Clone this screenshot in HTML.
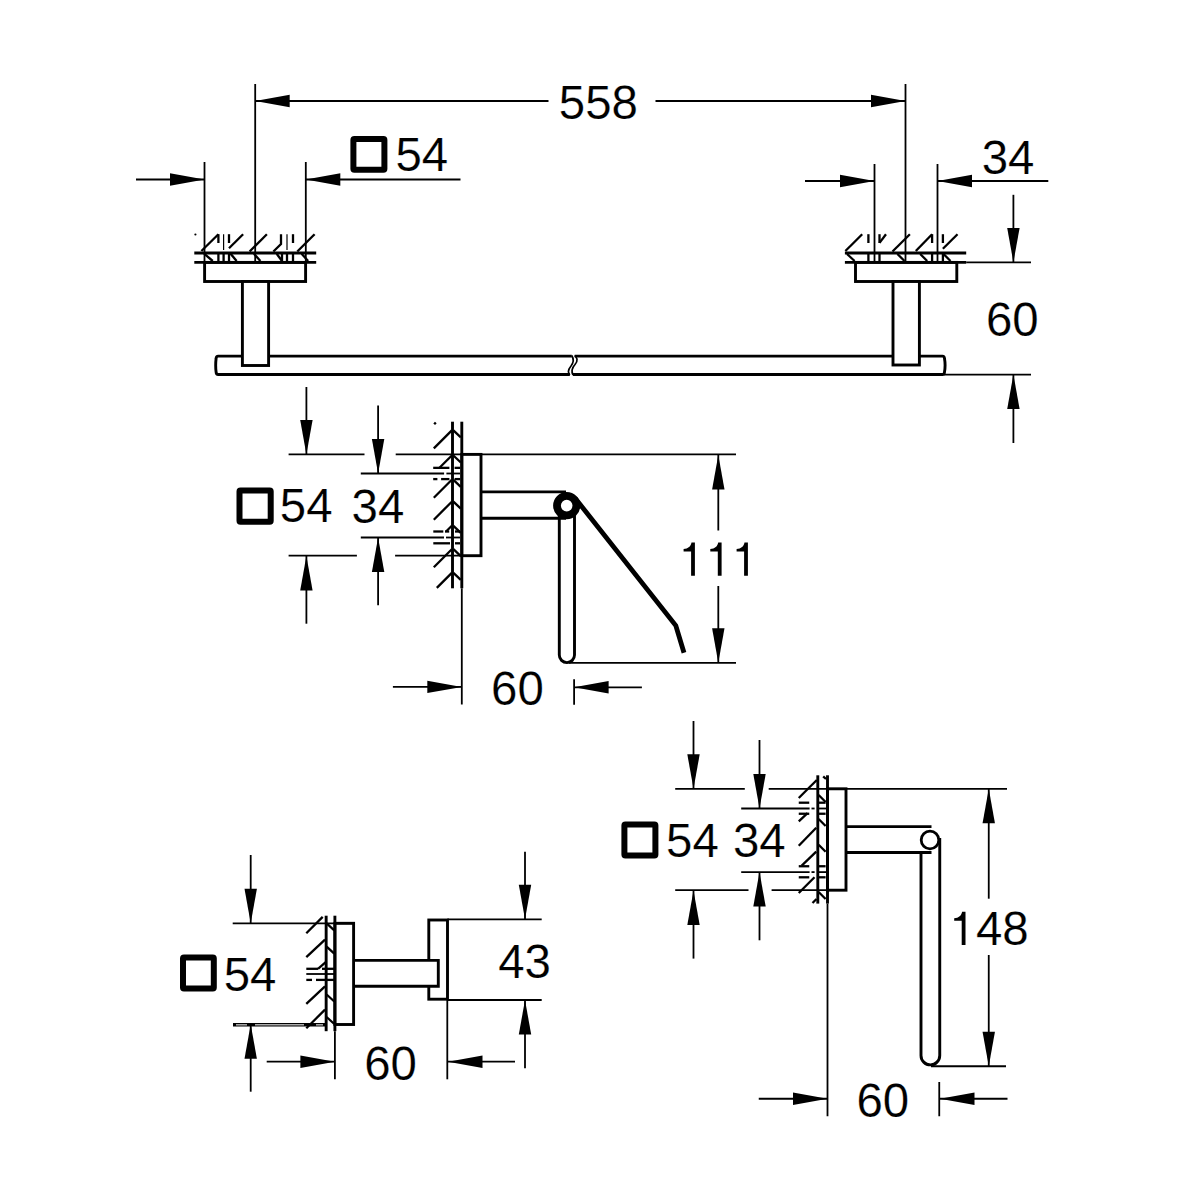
<!DOCTYPE html>
<html><head><meta charset="utf-8"><style>
html,body{margin:0;padding:0;background:#fff;}
svg{display:block;}
text{font-family:"Liberation Sans",sans-serif;fill:#000;}
</style></head><body>
<svg width="1200" height="1200" viewBox="0 0 1200 1200" stroke="#000" fill="none">
<rect x="0" y="0" width="1200" height="1200" fill="#fff" stroke="none"/>
<line x1="255.2" y1="84" x2="255.2" y2="262" stroke-width="1.8"/>
<line x1="905.5" y1="84" x2="905.5" y2="262" stroke-width="1.8"/>
<line x1="255.2" y1="101" x2="548.5" y2="101" stroke-width="1.8"/>
<line x1="655.5" y1="101" x2="905.5" y2="101" stroke-width="1.8"/>
<polygon points="255.2,101 289.7,94.8 289.7,107.2" fill="#000" stroke="none"/>
<polygon points="905.5,101 871,94.8 871,107.2" fill="#000" stroke="none"/>
<text transform="translate(558.8,119.07) scale(0.982,1)" font-size="48.3" stroke="#fff" stroke-width="0.2">558</text>
<line x1="204.5" y1="162" x2="204.5" y2="262" stroke-width="1.8"/>
<line x1="305.8" y1="162" x2="305.8" y2="262" stroke-width="1.8"/>
<line x1="136" y1="179.5" x2="204.5" y2="179.5" stroke-width="1.8"/>
<polygon points="204.5,179.5 170,173.3 170,185.7" fill="#000" stroke="none"/>
<line x1="305.8" y1="179.5" x2="460.5" y2="179.5" stroke-width="1.8"/>
<polygon points="305.8,179.5 340.3,173.3 340.3,185.7" fill="#000" stroke="none"/>
<rect x="353.4" y="138.9" width="31" height="30.9" rx="1" stroke-width="6.0" fill="none"/>
<text transform="translate(395.4,171.47) scale(0.982,1)" font-size="48.3" stroke="#fff" stroke-width="0.2">54</text>
<line x1="218.4" y1="234.2" x2="201.4" y2="251" stroke-width="2.3"/>
<line x1="243.1" y1="234.2" x2="229" y2="248.3" stroke-width="2.3"/>
<line x1="266.9" y1="234.2" x2="249.6" y2="251.5" stroke-width="2.3"/>
<line x1="314.6" y1="234.2" x2="297.3" y2="251.5" stroke-width="2.3"/>
<polyline points="281,234.2 281,244 273.4,251.5" stroke-width="2.3"/>
<line x1="218.4" y1="234.2" x2="218.4" y2="243" stroke-width="2.3"/>
<circle cx="195.4" cy="234.5" r="1.1" fill="#000" stroke="none"/>
<line x1="229" y1="234.2" x2="229" y2="243" stroke-width="2.3"/>
<line x1="293" y1="234.2" x2="293" y2="243" stroke-width="2.3"/>
<line x1="223.6" y1="234.2" x2="223.6" y2="250" stroke-width="1.2"/>
<line x1="287" y1="234.2" x2="287" y2="250" stroke-width="1.2"/>
<line x1="204.1" y1="253.7" x2="212.75" y2="261" stroke-width="2.3"/>
<line x1="230.6" y1="253.7" x2="236.6" y2="261" stroke-width="2.3"/>
<line x1="253.9" y1="253.7" x2="260.4" y2="261" stroke-width="2.3"/>
<line x1="276.7" y1="253.7" x2="282" y2="261" stroke-width="2.3"/>
<line x1="301.6" y1="253.7" x2="308.1" y2="261" stroke-width="2.3"/>
<line x1="218.4" y1="253" x2="218.4" y2="262.4" stroke-width="2.3"/>
<line x1="223.6" y1="253" x2="223.6" y2="262.4" stroke-width="2.3"/>
<line x1="229" y1="253" x2="229" y2="262.4" stroke-width="2.3"/>
<line x1="282" y1="253" x2="282" y2="262.4" stroke-width="2.3"/>
<line x1="287" y1="253" x2="287" y2="262.4" stroke-width="2.3"/>
<line x1="293" y1="253" x2="293" y2="262.4" stroke-width="2.3"/>
<line x1="194.3" y1="253" x2="316.2" y2="253" stroke-width="2.9"/>
<line x1="194.3" y1="262.4" x2="316.2" y2="262.4" stroke-width="2.9"/>
<rect x="204.6" y="262.4" width="101" height="19.1" stroke-width="2.9" fill="none"/>
<line x1="874.5" y1="164" x2="874.5" y2="262" stroke-width="1.8"/>
<line x1="937.5" y1="164" x2="937.5" y2="262" stroke-width="1.8"/>
<line x1="805" y1="181" x2="874.5" y2="181" stroke-width="1.8"/>
<polygon points="874.5,181 840,174.8 840,187.2" fill="#000" stroke="none"/>
<line x1="937.5" y1="181" x2="1048.3" y2="181" stroke-width="1.8"/>
<polygon points="937.5,181 972,174.8 972,187.2" fill="#000" stroke="none"/>
<text transform="translate(981.7,173.67) scale(0.982,1)" font-size="48.3" stroke="#fff" stroke-width="0.2">34</text>
<line x1="862.2" y1="234.2" x2="845.4" y2="251" stroke-width="2.3"/>
<line x1="909.9" y1="234.2" x2="892.5" y2="251.5" stroke-width="2.3"/>
<line x1="932.1" y1="234.2" x2="915.8" y2="251" stroke-width="2.3"/>
<line x1="957.5" y1="234.2" x2="942.9" y2="248.8" stroke-width="2.3"/>
<line x1="868.4" y1="234.2" x2="868.4" y2="243" stroke-width="2.3"/>
<line x1="879.5" y1="234.2" x2="879.5" y2="243" stroke-width="2.3"/>
<line x1="879.5" y1="242.9" x2="886" y2="234.2" stroke-width="2.3"/>
<line x1="932.1" y1="234.2" x2="932.1" y2="243" stroke-width="2.3"/>
<line x1="942.9" y1="234.2" x2="942.9" y2="243" stroke-width="2.3"/>
<line x1="847" y1="254" x2="854.6" y2="261" stroke-width="2.3"/>
<line x1="897.4" y1="254" x2="904.5" y2="261" stroke-width="2.3"/>
<line x1="920.2" y1="254" x2="927.2" y2="261" stroke-width="2.3"/>
<line x1="943.5" y1="254" x2="950.5" y2="261" stroke-width="2.3"/>
<line x1="868.4" y1="253" x2="868.4" y2="262.4" stroke-width="2.3"/>
<line x1="879.5" y1="253" x2="879.5" y2="262.4" stroke-width="2.3"/>
<line x1="932.1" y1="253" x2="932.1" y2="262.4" stroke-width="2.3"/>
<line x1="942.9" y1="253" x2="942.9" y2="262.4" stroke-width="2.3"/>
<line x1="844.9" y1="253" x2="966.2" y2="253" stroke-width="2.9"/>
<line x1="844.9" y1="262.4" x2="966.2" y2="262.4" stroke-width="2.9"/>
<line x1="966.2" y1="262.4" x2="1031" y2="262.4" stroke-width="1.8"/>
<rect x="855.5" y="262.4" width="101.3" height="19.1" stroke-width="2.9" fill="none"/>
<path d="M 571.8,356.1 L 218.2,356.1 Q 216.2,356.1 216.1,358.5 C 215.6,362.5 215.6,368 216.1,372 Q 216.2,374.5 218.2,374.5 L 569.8,374.5" stroke-width="2.9" fill="none" stroke-linecap="butt"/>
<path d="M 574.7,356.1 L 942.5,356.1 Q 944.4,356.1 944.5,358.5 C 945.2,362.5 945.2,368 944.5,372 Q 944.4,374.5 942.5,374.5 L 573,374.5" stroke-width="2.9" fill="none" stroke-linecap="butt"/>
<path d="M 571.8,355.5 C 574,359 574,362 571,366 C 567,371 568.5,373 569.8,375" stroke-width="1.7" fill="none" stroke-linecap="butt"/>
<path d="M 574.7,355.5 C 577,358 578.5,360 575,364.5 C 571,369 571.5,372 573,375" stroke-width="1.7" fill="none" stroke-linecap="butt"/>
<rect x="242.4" y="281.5" width="26.2" height="84" stroke-width="2.9" fill="#fff"/>
<rect x="893" y="281.5" width="26.4" height="83.5" stroke-width="2.9" fill="#fff"/>
<line x1="944" y1="374.6" x2="1031" y2="374.6" stroke-width="1.8"/>
<line x1="1013.4" y1="194.8" x2="1013.4" y2="262.4" stroke-width="1.8"/>
<polygon points="1013.4,262.4 1007.2,227.9 1019.6,227.9" fill="#000" stroke="none"/>
<line x1="1013.4" y1="374.5" x2="1013.4" y2="443" stroke-width="1.8"/>
<polygon points="1013.4,374.5 1007.2,409 1019.6,409" fill="#000" stroke="none"/>
<text transform="translate(985.98,336.17) scale(0.982,1)" font-size="48.3" stroke="#fff" stroke-width="0.2">60</text>
<line x1="306.4" y1="387" x2="306.4" y2="454.4" stroke-width="1.8"/>
<polygon points="306.4,454.4 300.2,419.9 312.6,419.9" fill="#000" stroke="none"/>
<line x1="306.4" y1="556" x2="306.4" y2="623.7" stroke-width="1.8"/>
<polygon points="306.4,556 300.2,590.5 312.6,590.5" fill="#000" stroke="none"/>
<line x1="378.1" y1="405.5" x2="378.1" y2="473.5" stroke-width="1.8"/>
<polygon points="378.1,473.5 371.9,439 384.3,439" fill="#000" stroke="none"/>
<line x1="378.1" y1="537.5" x2="378.1" y2="605.3" stroke-width="1.8"/>
<polygon points="378.1,537.5 371.9,572 384.3,572" fill="#000" stroke="none"/>
<line x1="288.6" y1="454.4" x2="364.5" y2="454.4" stroke-width="1.8"/>
<line x1="395.7" y1="454.4" x2="462" y2="454.4" stroke-width="1.8"/>
<line x1="288.6" y1="555.7" x2="356.9" y2="555.7" stroke-width="1.8"/>
<line x1="395.1" y1="555.7" x2="462" y2="555.7" stroke-width="1.8"/>
<line x1="360.8" y1="473.5" x2="444.1" y2="473.5" stroke-width="1.8"/>
<line x1="446.4" y1="473.5" x2="460" y2="473.5" stroke-width="1.8"/>
<line x1="360.8" y1="537.5" x2="444" y2="537.5" stroke-width="1.8"/>
<line x1="446" y1="537.5" x2="460" y2="537.5" stroke-width="1.8"/>
<line x1="433.2" y1="467.85" x2="449.4" y2="467.85" stroke-width="2.3"/>
<line x1="454.6" y1="467.85" x2="460.2" y2="467.85" stroke-width="2.3"/>
<line x1="433.2" y1="479.1" x2="437.4" y2="479.1" stroke-width="2.3"/>
<line x1="441.1" y1="479.1" x2="449.4" y2="479.1" stroke-width="2.3"/>
<line x1="454.6" y1="479.1" x2="460.2" y2="479.1" stroke-width="2.3"/>
<line x1="433.3" y1="531.5" x2="443.3" y2="531.5" stroke-width="2.3"/>
<line x1="445" y1="531.5" x2="449.2" y2="531.5" stroke-width="2.3"/>
<line x1="455" y1="531.5" x2="460" y2="531.5" stroke-width="2.3"/>
<line x1="433.3" y1="543.3" x2="450" y2="543.3" stroke-width="2.3"/>
<line x1="455" y1="543.3" x2="460" y2="543.3" stroke-width="2.3"/>
<rect x="239.5" y="490.6" width="31.2" height="31.1" rx="1" stroke-width="6.0" fill="none"/>
<text transform="translate(279.8,522.47) scale(0.982,1)" font-size="48.3" stroke="#fff" stroke-width="0.2">54</text>
<text transform="translate(351.6,522.67) scale(0.982,1)" font-size="48.3" stroke="#fff" stroke-width="0.2">34</text>
<line x1="433.8" y1="448.4" x2="451.8" y2="430.4" stroke-width="2.3"/>
<line x1="453.4" y1="430.4" x2="460.8" y2="437.4" stroke-width="2.3"/>
<line x1="439.5" y1="467.8" x2="451.8" y2="455.5" stroke-width="2.3"/>
<line x1="453.4" y1="455.5" x2="460.8" y2="462.5" stroke-width="2.3"/>
<line x1="433.8" y1="497.8" x2="451.8" y2="479.8" stroke-width="2.3"/>
<line x1="453.4" y1="479.8" x2="460.8" y2="486.8" stroke-width="2.3"/>
<line x1="433.8" y1="519.7" x2="451.8" y2="501.7" stroke-width="2.3"/>
<line x1="453.4" y1="501.7" x2="460.8" y2="508.7" stroke-width="2.3"/>
<line x1="446.1" y1="531.5" x2="451.8" y2="525.8" stroke-width="2.3"/>
<line x1="453.4" y1="525.8" x2="460.8" y2="532.8" stroke-width="2.3"/>
<line x1="433.8" y1="567.2" x2="451.8" y2="549.2" stroke-width="2.3"/>
<line x1="453.4" y1="549.2" x2="460.8" y2="556.2" stroke-width="2.3"/>
<line x1="436.8" y1="587.9" x2="451.8" y2="572.9" stroke-width="2.3"/>
<line x1="453.4" y1="572.9" x2="460.8" y2="579.9" stroke-width="2.3"/>
<line x1="434.2" y1="424.3" x2="435.8" y2="422.5" stroke-width="2.3"/>
<line x1="452.5" y1="421.7" x2="452.5" y2="588.3" stroke-width="2.9"/>
<line x1="461.8" y1="421.7" x2="461.8" y2="588.3" stroke-width="2.9"/>
<line x1="461.8" y1="588.3" x2="461.8" y2="704.5" stroke-width="1.8"/>
<rect x="461.8" y="454.4" width="19.2" height="101.3" stroke-width="2.9" fill="none"/>
<line x1="481" y1="454.4" x2="736" y2="454.4" stroke-width="1.8"/>
<line x1="481" y1="491.9" x2="566" y2="491.9" stroke-width="2.9"/>
<line x1="481" y1="518.2" x2="566" y2="518.2" stroke-width="2.9"/>
<path d="M 559.3,512 L 559.3,655 A 7.6,7.6 0 0 0 574.5,655 L 574.5,512" stroke-width="2.9" fill="none" stroke-linecap="butt"/>
<path d="M 575,498 L 675.8,625.6 L 684,652.7" stroke-width="4.8" fill="none" stroke-linecap="butt"/>
<circle cx="566.7" cy="505.6" r="9.7" stroke-width="7.8" fill="#fff"/>
<line x1="569" y1="662.8" x2="736" y2="662.8" stroke-width="1.8"/>
<line x1="718.3" y1="454.4" x2="718.3" y2="530.5" stroke-width="1.8"/>
<polygon points="718.3,455 712.1,489.5 724.5,489.5" fill="#000" stroke="none"/>
<line x1="718.3" y1="586" x2="718.3" y2="662.8" stroke-width="1.8"/>
<polygon points="718.3,662.8 712.1,628.3 724.5,628.3" fill="#000" stroke="none"/>
<path d="M 694.9,542.6 L 694.9,575.8 L 691.1,575.8 L 691.1,551.6 L 683.6,551.6 L 683.6,549.1 C 688.2,548.9 690.9,546.4 691.5,542.6 Z" fill="#000" stroke="none"/>
<path d="M 721.6,542.6 L 721.6,575.8 L 717.8,575.8 L 717.8,551.6 L 710.3,551.6 L 710.3,549.1 C 714.9,548.9 717.6,546.4 718.2,542.6 Z" fill="#000" stroke="none"/>
<path d="M 747.9,542.6 L 747.9,575.8 L 744.1,575.8 L 744.1,551.6 L 736.6,551.6 L 736.6,549.1 C 741.2,548.9 743.9,546.4 744.5,542.6 Z" fill="#000" stroke="none"/>
<line x1="392.9" y1="686.9" x2="461.8" y2="686.9" stroke-width="1.8"/>
<polygon points="461.8,686.9 427.3,680.7 427.3,693.1" fill="#000" stroke="none"/>
<line x1="574.1" y1="679.3" x2="574.1" y2="704.7" stroke-width="1.8"/>
<line x1="574.1" y1="687.3" x2="641.9" y2="687.3" stroke-width="1.8"/>
<polygon points="574.1,687.3 608.6,681.1 608.6,693.5" fill="#000" stroke="none"/>
<text transform="translate(491.08,704.67) scale(0.982,1)" font-size="48.3" stroke="#fff" stroke-width="0.2">60</text>
<line x1="250.7" y1="855" x2="250.7" y2="923.3" stroke-width="1.8"/>
<polygon points="250.7,923.3 244.5,888.8 256.9,888.8" fill="#000" stroke="none"/>
<line x1="250.7" y1="1024.3" x2="250.7" y2="1091.7" stroke-width="1.8"/>
<polygon points="250.7,1024.3 244.5,1058.8 256.9,1058.8" fill="#000" stroke="none"/>
<line x1="232.7" y1="923.3" x2="355" y2="923.3" stroke-width="1.8"/>
<line x1="233" y1="1024.8" x2="326" y2="1024.8" stroke-width="3.6"/>
<line x1="236" y1="1024.8" x2="247" y2="1024.8" stroke-width="1.5" stroke="#aaa"/>
<line x1="255" y1="1024.8" x2="304" y2="1024.8" stroke-width="1.5" stroke="#aaa"/>
<line x1="316" y1="1024.8" x2="323" y2="1024.8" stroke-width="1.5" stroke="#aaa"/>
<rect x="183" y="957.6" width="30.8" height="30.8" rx="1" stroke-width="6.0" fill="none"/>
<text transform="translate(223.7,991.17) scale(0.982,1)" font-size="48.3" stroke="#fff" stroke-width="0.2">54</text>
<line x1="306.3" y1="933.2" x2="322.7" y2="916.9" stroke-width="2.3"/>
<line x1="306.3" y1="957.1" x2="325" y2="939.6" stroke-width="2.3"/>
<line x1="306.3" y1="1003.8" x2="325" y2="986.3" stroke-width="2.3"/>
<line x1="306.3" y1="1028.3" x2="325" y2="1009.6" stroke-width="2.3"/>
<line x1="326.6" y1="923.3" x2="334.3" y2="930.3" stroke-width="2.3"/>
<line x1="326.6" y1="946.6" x2="334.3" y2="953.6" stroke-width="2.3"/>
<line x1="326.6" y1="994.5" x2="334.3" y2="1001.5" stroke-width="2.3"/>
<line x1="326.6" y1="1017" x2="334.3" y2="1024" stroke-width="2.3"/>
<line x1="306.3" y1="968.8" x2="318" y2="968.8" stroke-width="2.3"/>
<line x1="322" y1="968.8" x2="334" y2="968.8" stroke-width="2.3"/>
<line x1="306.3" y1="974" x2="334" y2="974" stroke-width="1.8"/>
<line x1="306.3" y1="979.9" x2="312" y2="979.9" stroke-width="2.3"/>
<line x1="316" y1="979.9" x2="334" y2="979.9" stroke-width="2.3"/>
<line x1="318" y1="968.8" x2="326" y2="961.8" stroke-width="2.3"/>
<line x1="326.15" y1="915.7" x2="326.15" y2="1031.2" stroke-width="2.9"/>
<line x1="334.9" y1="915.7" x2="334.9" y2="1031.2" stroke-width="2.9"/>
<line x1="334.9" y1="1031.2" x2="334.9" y2="1079.3" stroke-width="1.8"/>
<rect x="334.9" y="923.3" width="18.7" height="101.2" stroke-width="2.9" fill="none"/>
<rect x="428.8" y="920" width="18.7" height="79.2" stroke-width="2.9" fill="none"/>
<rect x="355.2" y="960.4" width="83.1" height="25.9" fill="#fff" stroke="none"/>
<path d="M 353.6,960.4 L 438.3,960.4 L 438.3,986.3 L 353.6,986.3" stroke-width="2.9" fill="none" stroke-linecap="butt"/>
<line x1="447.3" y1="919.3" x2="541.7" y2="919.3" stroke-width="1.8"/>
<line x1="447.3" y1="1000" x2="541.7" y2="1000" stroke-width="1.8"/>
<line x1="525" y1="851.7" x2="525" y2="919.3" stroke-width="1.8"/>
<polygon points="525,919.3 518.8,884.8 531.2,884.8" fill="#000" stroke="none"/>
<line x1="525" y1="1000" x2="525" y2="1068.3" stroke-width="1.8"/>
<polygon points="525,1000 518.8,1034.5 531.2,1034.5" fill="#000" stroke="none"/>
<text transform="translate(498.21,977.67) scale(0.982,1)" font-size="48.3" stroke="#fff" stroke-width="0.2">43</text>
<line x1="266.7" y1="1061.7" x2="334.9" y2="1061.7" stroke-width="1.8"/>
<polygon points="334.9,1061.7 300.4,1055.5 300.4,1067.9" fill="#000" stroke="none"/>
<line x1="447.3" y1="1000" x2="447.3" y2="1079.3" stroke-width="1.8"/>
<line x1="448" y1="1061.7" x2="515" y2="1061.7" stroke-width="1.8"/>
<polygon points="448,1061.7 482.5,1055.5 482.5,1067.9" fill="#000" stroke="none"/>
<text transform="translate(364.18,1079.57) scale(0.982,1)" font-size="48.3" stroke="#fff" stroke-width="0.2">60</text>
<line x1="693.5" y1="721" x2="693.5" y2="788.8" stroke-width="1.8"/>
<polygon points="693.5,788.8 687.3,754.3 699.7,754.3" fill="#000" stroke="none"/>
<line x1="693.5" y1="890.4" x2="693.5" y2="958.6" stroke-width="1.8"/>
<polygon points="693.5,890.4 687.3,924.9 699.7,924.9" fill="#000" stroke="none"/>
<line x1="759.5" y1="740" x2="759.5" y2="808.5" stroke-width="1.8"/>
<polygon points="759.5,808.5 753.3,774 765.7,774" fill="#000" stroke="none"/>
<line x1="759.5" y1="872.1" x2="759.5" y2="940.3" stroke-width="1.8"/>
<polygon points="759.5,872.1 753.3,906.6 765.7,906.6" fill="#000" stroke="none"/>
<line x1="675.2" y1="788.8" x2="744.8" y2="788.8" stroke-width="1.8"/>
<line x1="768.7" y1="788.8" x2="1007" y2="788.8" stroke-width="1.8"/>
<line x1="675.2" y1="890.2" x2="748.5" y2="890.2" stroke-width="1.8"/>
<line x1="771.6" y1="890.2" x2="846" y2="890.2" stroke-width="1.8"/>
<line x1="741.2" y1="808.5" x2="809.6" y2="808.5" stroke-width="1.8"/>
<line x1="811.5" y1="808.5" x2="814.6" y2="808.5" stroke-width="1.8"/>
<line x1="741.2" y1="872.1" x2="809.6" y2="872.1" stroke-width="1.8"/>
<line x1="811.5" y1="872.1" x2="814.6" y2="872.1" stroke-width="1.8"/>
<line x1="819" y1="808.5" x2="826" y2="808.5" stroke-width="1.8"/>
<line x1="819" y1="872.1" x2="826" y2="872.1" stroke-width="1.8"/>
<line x1="823.2" y1="776.3" x2="826" y2="779" stroke-width="2.3"/>
<rect x="624.4" y="824.4" width="31" height="31" rx="1" stroke-width="6.0" fill="none"/>
<text transform="translate(666.1,857.17) scale(0.982,1)" font-size="48.3" stroke="#fff" stroke-width="0.2">54</text>
<text transform="translate(732.9,857.37) scale(0.982,1)" font-size="48.3" stroke="#fff" stroke-width="0.2">34</text>
<line x1="798.75" y1="798" x2="816.8" y2="780" stroke-width="2.3"/>
<line x1="798.75" y1="845.8" x2="816.25" y2="827.75" stroke-width="2.3"/>
<line x1="801.7" y1="865.7" x2="816.25" y2="851.7" stroke-width="2.3"/>
<line x1="798.75" y1="893" x2="814.5" y2="877.3" stroke-width="2.3"/>
<line x1="812.5" y1="903" x2="816.5" y2="899" stroke-width="2.3"/>
<line x1="798.75" y1="821.3" x2="807.5" y2="813.2" stroke-width="2.3"/>
<line x1="818.6" y1="795" x2="825.6" y2="802" stroke-width="2.3"/>
<line x1="818.6" y1="819" x2="825.6" y2="826" stroke-width="2.3"/>
<line x1="818.6" y1="844.7" x2="825.6" y2="851.7" stroke-width="2.3"/>
<line x1="818.6" y1="892" x2="825.6" y2="899" stroke-width="2.3"/>
<line x1="798.75" y1="802.7" x2="809.25" y2="802.7" stroke-width="2.3"/>
<line x1="818.6" y1="802.7" x2="825.6" y2="802.7" stroke-width="2.3"/>
<line x1="798.75" y1="813.75" x2="809.25" y2="813.75" stroke-width="2.3"/>
<line x1="818.6" y1="813.75" x2="825.6" y2="813.75" stroke-width="2.3"/>
<line x1="798.75" y1="866.25" x2="809.25" y2="866.25" stroke-width="2.3"/>
<line x1="818.6" y1="866.25" x2="825.6" y2="866.25" stroke-width="2.3"/>
<line x1="798.75" y1="877.3" x2="809.25" y2="877.3" stroke-width="2.3"/>
<line x1="818.6" y1="877.3" x2="825.6" y2="877.3" stroke-width="2.3"/>
<line x1="817.8" y1="775.3" x2="817.8" y2="903.6" stroke-width="2.9"/>
<line x1="827.5" y1="775.3" x2="827.5" y2="903.6" stroke-width="2.9"/>
<line x1="827.5" y1="903.6" x2="827.5" y2="1116.25" stroke-width="1.8"/>
<rect x="827.5" y="788.8" width="18.5" height="101.4" stroke-width="2.9" fill="none"/>
<line x1="846" y1="826.6" x2="931.5" y2="826.6" stroke-width="2.9"/>
<line x1="846" y1="852.5" x2="931.5" y2="852.5" stroke-width="2.9"/>
<path d="M 921,852 L 921,1055.5 A 9.375,9.375 0 0 0 939.75,1055.5 L 939.75,838" stroke-width="2.9" fill="none" stroke-linecap="butt"/>
<circle cx="930" cy="840" r="8.8" stroke-width="2.8" fill="#fff"/>
<line x1="931" y1="1066.25" x2="1006" y2="1066.25" stroke-width="1.8"/>
<line x1="988.75" y1="788.8" x2="988.75" y2="898.7" stroke-width="1.8"/>
<polygon points="988.75,788.8 982.55,823.3 994.95,823.3" fill="#000" stroke="none"/>
<line x1="988.75" y1="955" x2="988.75" y2="1066.25" stroke-width="1.8"/>
<polygon points="988.75,1066.25 982.55,1031.75 994.95,1031.75" fill="#000" stroke="none"/>
<path d="M 965.5,911.7 L 965.5,944.9 L 961.7,944.9 L 961.7,920.7 L 954.2,920.7 L 954.2,918.2 C 958.8,918 961.5,915.5 962.1,911.7 Z" fill="#000" stroke="none"/>
<text transform="translate(975.91,945.47) scale(0.982,1)" font-size="48.3" stroke="#fff" stroke-width="0.2">48</text>
<line x1="758.75" y1="1098.75" x2="827.5" y2="1098.75" stroke-width="1.8"/>
<polygon points="827.5,1098.75 793,1092.55 793,1104.95" fill="#000" stroke="none"/>
<line x1="939.25" y1="1082" x2="939.25" y2="1116.25" stroke-width="1.8"/>
<line x1="940" y1="1098.75" x2="1007.5" y2="1098.75" stroke-width="1.8"/>
<polygon points="940,1098.75 974.5,1092.55 974.5,1104.95" fill="#000" stroke="none"/>
<text transform="translate(856.48,1116.57) scale(0.982,1)" font-size="48.3" stroke="#fff" stroke-width="0.2">60</text>
</svg>
</body></html>
